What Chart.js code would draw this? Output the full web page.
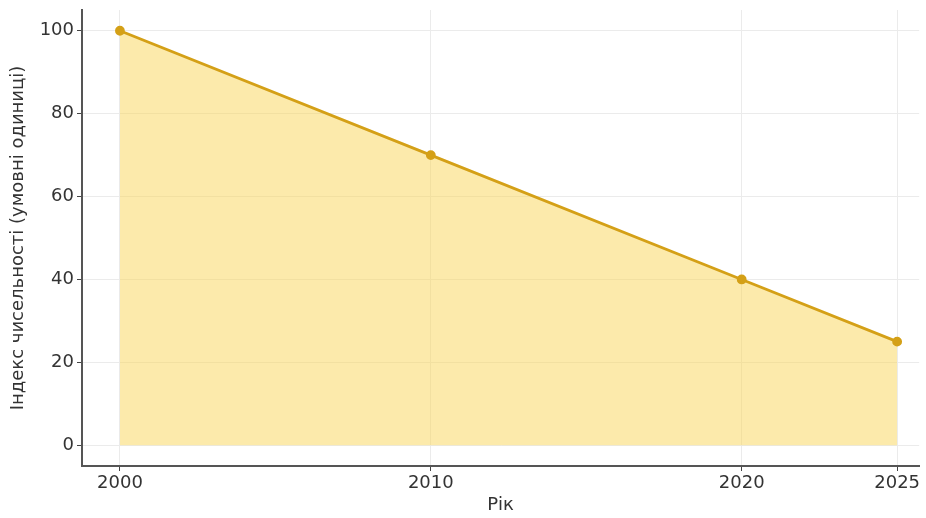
<!DOCTYPE html>
<html lang="uk">
<head>
<meta charset="utf-8">
<script src="https://cdn.jsdelivr.net/npm/chart.js@4"></script>
<style>
  html, body { margin: 0; padding: 0; background: #fff; overflow: hidden; }
  #wrap { width: 926px; height: 518px; }
  canvas { display: block; }
</style>
</head>
<body>
<div id="wrap"><canvas id="popChart" width="926" height="518"></canvas></div>
<script>
const years = [2000, 2010, 2020, 2025];
const indexValues = [100, 70, 40, 25];
const yearTicks = [2000, 2010, 2020, 2025];
const valueTicks = [0, 20, 40, 60, 80, 100];

const lineColor = '#d4a017';
const tickFont = { family: 'DejaVu Sans', size: 18 };

new Chart(document.querySelector('#popChart'), {
  type: 'line',
  data: {
    datasets: [{
      data: years.map((y, i) => ({ x: y, y: indexValues[i] })),
      borderColor: lineColor,
      borderWidth: 2.8,
      backgroundColor: 'rgba(250, 214, 88, 0.5)',
      fill: 'origin',
      pointRadius: 3.5,
      pointBackgroundColor: lineColor,
      pointBorderColor: lineColor,
      tension: 0
    }]
  },
  options: {
    responsive: false,
    animation: false,
    layout: { padding: { top: 10, right: 0, left: 0, bottom: 0 } },
    plugins: { legend: { display: false }, tooltip: { enabled: false } },
    scales: {
      x: {
        type: 'linear',
        min: 1998.78,
        max: 2025.71,
        afterBuildTicks: s => { s.ticks = yearTicks.map(v => ({ value: v })); },
        afterFit: s => { s.height = 52; s.paddingLeft = 0; s.paddingRight = 0; },
        ticks: { font: tickFont, color: '#333', padding: 2, callback: v => String(v) },
        grid: { color: '#ebebeb', tickColor: '#444', tickLength: 5 },
        border: { color: '#555', width: 2 },
        title: { display: true, text: 'Рік', font: tickFont, color: '#333', padding: { top: 0, bottom: 2 } }
      },
      y: {
        min: -5,
        max: 105,
        afterBuildTicks: s => { s.ticks = valueTicks.map(v => ({ value: v })); },
        afterFit: s => { s.width = 82; s.paddingTop = 0; s.paddingBottom = 0; },
        ticks: { font: tickFont, color: '#333', padding: 3 },
        grid: { color: '#ebebeb', tickColor: '#444', tickLength: 5 },
        border: { color: '#555', width: 2 },
        title: { display: true, text: 'Індекс чисельності (умовні одиниці)', font: tickFont, color: '#333', padding: { top: 8, bottom: 0 } }
      }
    }
  }
});
</script>
</body>
</html>
